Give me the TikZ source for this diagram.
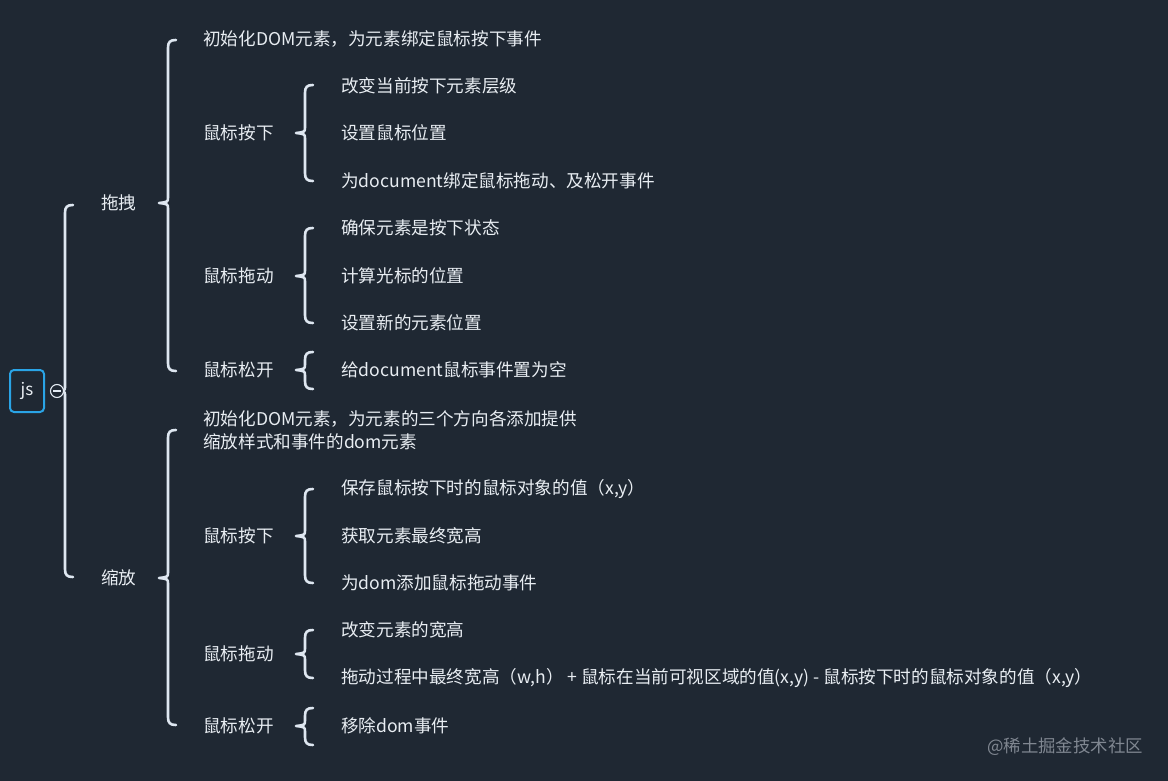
\documentclass[tikz,border=0pt]{standalone}
\usepackage{fontspec}
\setmainfont{Noto Sans CJK SC}
\definecolor{bg}{RGB}{31,40,51}
\definecolor{txt}{RGB}{232,237,242}
\definecolor{brc}{RGB}{222,231,241}
\definecolor{jsblue}{RGB}{42,164,230}
\definecolor{wm}{RGB}{128,135,145}
\tikzset{
  lbl/.style={anchor=west,inner sep=0pt,text=txt,font=\fontsize{17.6}{23}\selectfont,align=left},
  bracepath/.style={draw=brc,line width=2.6pt,line cap=round,line join=round},
}
\newcommand\mybrc[5]{% x, top, tip, bottom, depth
  \draw[bracepath] ({#1+8},#2) .. controls ({#1+2},#2) and (#1,{#2+2}) .. (#1,{#2+8})
    -- (#1,{#3-6}) .. controls (#1,{#3-1}) .. ({#1-#5},#3)
    .. controls (#1,{#3+1}) .. (#1,{#3+6})
    -- (#1,{#4-8}) .. controls (#1,{#4-2}) and ({#1+2},#4) .. ({#1+8},#4);}
\begin{document}
\begin{tikzpicture}[x=1pt,y=-1pt]
\fill[bg] (0,0) rectangle (1168,781);
\useasboundingbox (0,0) rectangle (1168,781);

% root
\node[draw=jsblue,line width=2pt,rounded corners=4pt,minimum width=34pt,minimum height=42pt,inner sep=0pt,text=txt,font=\fontsize{17}{20}\selectfont] (js) at (27,391) {js};

% level 1 brace
\mybrc{65}{205}{391}{577}{3}
\node[circle,draw=brc!85,line width=1.1pt,fill=bg,minimum size=13pt,inner sep=0pt] (col) at (57,391) {};
\draw[brc!85,line width=1.1pt] ([xshift=-4pt]col.center) -- ([xshift=4pt]col.center);

\node[lbl] (tz) at (101,203) {拖拽};
\node[lbl] (sf) at (101,578) {缩放};

% 拖拽 branch
\mybrc{168}{40}{203}{371}{9}
\node[lbl] (tz0) at (203,39) {初始化DOM元素，为元素绑定鼠标按下事件};
\node[lbl] (tz1) at (203,133) {鼠标按下};
\node[lbl] (tz2) at (203,276) {鼠标拖动};
\node[lbl] (tz3) at (203,370) {鼠标松开};

\mybrc{305}{85}{133}{181}{9}
\node[lbl] (a1) at (341,86) {改变当前按下元素层级};
\node[lbl] (a2) at (341,133) {设置鼠标位置};
\node[lbl] (a3) at (341,181) {为document绑定鼠标拖动、及松开事件};

\mybrc{305}{228}{276}{323}{9}
\node[lbl] (b1) at (341,228) {确保元素是按下状态};
\node[lbl] (b2) at (341,276) {计算光标的位置};
\node[lbl] (b3) at (341,323) {设置新的元素位置};

\mybrc{305}{352}{370}{389}{9}
\node[lbl] (c1) at (341,370) {给document鼠标事件置为空};

% 缩放 branch
\mybrc{168}{430}{578}{725}{9}
\node[lbl] (sf0) at (203,430) {初始化DOM元素，为元素的三个方向各添加提供\\缩放样式和事件的dom元素};
\node[lbl] (sf1) at (203,536) {鼠标按下};
\node[lbl] (sf2) at (203,654) {鼠标拖动};
\node[lbl] (sf3) at (203,726) {鼠标松开};

\mybrc{305}{489}{536}{583}{9}
\node[lbl] (d1) at (341,489) {保存鼠标按下时的鼠标对象的值（x,y）};
\node[lbl] (d2) at (341,536) {获取元素最终宽高};
\node[lbl] (d3) at (341,583) {为dom添加鼠标拖动事件};

\mybrc{305}{630}{654}{678}{9}
\node[lbl] (e1) at (341,630) {改变元素的宽高};
\node[lbl] (e2) at (341,678) {拖动过程中最终宽高（w,h） + 鼠标在当前可视区域的值(x,y) - 鼠标按下时的鼠标对象的值（x,y）};

\mybrc{305}{708}{726}{745}{9}
\node[lbl] (f1) at (341,726) {移除dom事件};

% watermark
\node[anchor=east,inner sep=0pt,text=wm,font=\fontsize{17.4}{20}\selectfont] (wmk) at (1143,747) {@稀土掘金技术社区};
\end{tikzpicture}
\end{document}
